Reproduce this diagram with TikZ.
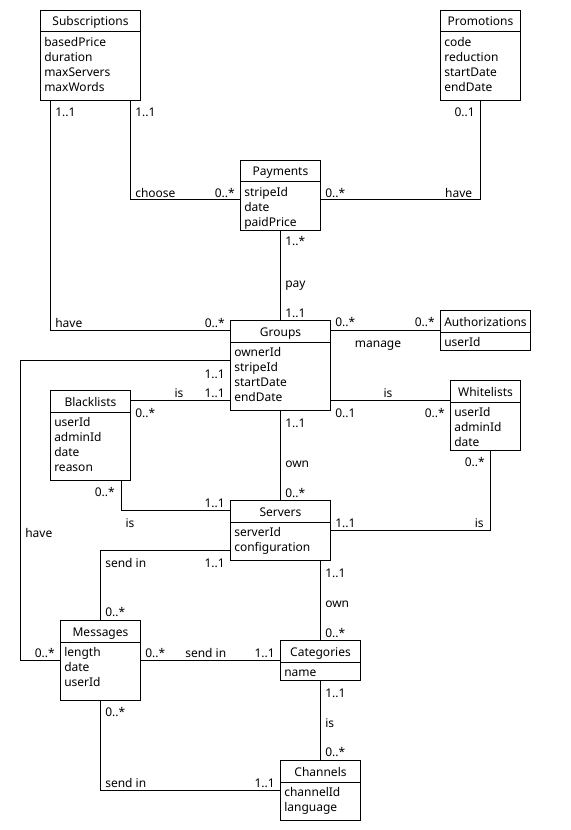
\documentclass[tikz,border=0pt]{standalone}
\usepackage{fontspec}
\setmainfont{Noto Sans}
\usetikzlibrary{calc}

% class box: name, x, y, width (px), height (px), title, attributes
\newcommand{\umlclass}[7]{%
  \node[cls, minimum width=#4*0.75pt, minimum height=#5*0.75pt] (#1) at (#2,#3) {};
  \draw[conn] ($(#1.north west)+(0,22)$) -- ($(#1.north east)+(0,22)$);
  \node[ttl] (#1-t) at ($(#1.north)+(0,16)$) {#6};
  \node[attr] (#1-a) at ($(#1.north west)+(4,25.3)$) {\rule{0pt}{8pt}#7};
}

\begin{document}
\begin{tikzpicture}[
    x=0.75pt, y=-0.75pt,
    every node/.style={font=\fontsize{9pt}{11.25pt}\selectfont},
    cls/.style={draw, line width=0.75pt, inner sep=0pt, anchor=north west},
    ttl/.style={anchor=base, inner sep=0pt},
    attr/.style={anchor=north west, inner sep=0pt, align=left},
    conn/.style={line width=0.75pt},
    lbl/.style={inner sep=0pt, text height=6.4pt, text depth=0pt}
  ]
  \useasboundingbox (0,0) rectangle (570,830);

  % classes
  \umlclass{subs}{40}{10}{100}{90}{Subscriptions}{basedPrice\\duration\\maxServers\\maxWords}
  \umlclass{promo}{440}{10}{80}{90}{Promotions}{code\\reduction\\startDate\\endDate}
  \umlclass{pay}{240}{160}{80}{70}{Payments}{stripeId\\date\\paidPrice}
  \umlclass{grp}{230}{320}{100}{90}{Groups}{ownerId\\stripeId\\startDate\\endDate}
  \umlclass{auth}{440}{310}{90}{40}{Authorizations}{userId}
  \umlclass{black}{50}{390}{80}{90}{Blacklists}{userId\\adminId\\date\\reason}
  \umlclass{white}{450}{380}{70}{70}{Whitelists}{userId\\adminId\\date}
  \umlclass{serv}{230}{500}{100}{60}{Servers}{serverId\\configuration}
  \umlclass{msg}{60}{620}{80}{80}{Messages}{length\\date\\userId}
  \umlclass{cat}{280}{640}{80}{40}{Categories}{name}
  \umlclass{chan}{280}{760}{80}{60}{Channels}{channelId\\language}

  % line ends
  \coordinate (wl) at ($(white.north west)+(0,20)$);
  \coordinate (bl) at ($(black.north east)+(0,10)$);

  % associations
  \draw[conn] ($(subs.south west)+(10,0)$) |- ($(grp.north west)+(0,10)$);
  \draw[conn] ($(subs.south west)+(90,0)$) |- ($(pay.north west)+(0,40)$);
  \draw[conn] ($(pay.north east)+(0,40)$) -| (promo.south);
  \draw[conn] (pay.south) -- (grp.north);
  \draw[conn] (auth.west -| grp.east) -- (auth.west);
  \draw[conn] (wl -| grp.east) -- (wl);
  \draw[conn] (bl) -- (bl -| grp.west);
  \draw[conn] ($(grp.north west)+(0,40)$) -| ($(msg.west)+(-40,0)$) -- (msg.west);
  \draw[conn] (grp.south) -- (serv.north);
  \draw[conn] ($(black.south east)+(-10,0)$) |- ($(serv.north west)+(0,10)$);
  \draw[conn] (serv.east) -| ($(white.south)+(5,0)$);
  \draw[conn] ($(serv.north west)+(0,50)$) -| (msg.north);
  \draw[conn] (cat.north |- serv.south) -- (cat.north);
  \draw[conn] (msg.east) -- (cat.west);
  \draw[conn] (cat.south) -- (chan.north);
  \draw[conn] (msg.south) |- (chan.west);

  % multiplicities and roles
  \node[lbl, anchor=west] (sg1) at (55,112) {1..1};
  \node[lbl, anchor=west] (sg2) at (55,323) {have};
  \node[lbl, anchor=east] (sg3) at (225,323) {0..*};
  \node[lbl, anchor=west] (sp1) at (135,112) {1..1};
  \node[lbl, anchor=west] (sp2) at (135,193) {choose};
  \node[lbl, anchor=east] (sp3) at (235,193) {0..*};
  \node[lbl, anchor=west] (pp1) at (325,193) {0..*};
  \node[lbl, anchor=east] (pp2) at (472.5,193) {have};
  \node[lbl, anchor=east] (pp3) at (475,112) {0..1};
  \node[lbl, anchor=west] (pg1) at (285,241) {1..*};
  \node[lbl, anchor=west] (pg2) at (285,283) {pay};
  \node[lbl, anchor=west] (pg3) at (285,313) {1..1};
  \node[lbl, anchor=west] (ga1) at (335,322) {0..*};
  \node[lbl] (ga2) at (378,343) {manage};
  \node[lbl, anchor=east] (ga3) at (435,322) {0..*};
  \node[lbl] (gw1) at (388,393) {is};
  \node[lbl, anchor=west] (gw2) at (335,413) {0..1};
  \node[lbl, anchor=east] (gw3) at (445,413) {0..*};
  \node[lbl] (gb1) at (179,393) {is};
  \node[lbl, anchor=east] (gb2) at (225,393) {1..1};
  \node[lbl, anchor=west] (gb3) at (135,413) {0..*};
  \node[lbl, anchor=east] (gm1) at (225,374) {1..1};
  \node[lbl, anchor=west] (gm2) at (25,533) {have};
  \node[lbl, anchor=east] (gm3) at (55,653) {0..*};
  \node[lbl, anchor=west] (gs1) at (285,423) {1..1};
  \node[lbl, anchor=west] (gs2) at (285,463) {own};
  \node[lbl, anchor=west] (gs3) at (285,493) {0..*};
  \node[lbl, anchor=east] (bs1) at (115,492) {0..*};
  \node[lbl] (bs2) at (130,523) {is};
  \node[lbl, anchor=east] (bs3) at (225,503) {1..1};
  \node[lbl, anchor=west] (sw1) at (335,523) {1..1};
  \node[lbl, anchor=east] (sw2) at (484,523) {is};
  \node[lbl, anchor=east] (sw3) at (485,462) {0..*};
  \node[lbl, anchor=west] (sm1) at (105,563) {send in};
  \node[lbl, anchor=east] (sm2) at (225,563) {1..1};
  \node[lbl, anchor=west] (sm3) at (105,612) {0..*};
  \node[lbl, anchor=west] (sc1) at (325,573) {1..1};
  \node[lbl, anchor=west] (sc2) at (325,603) {own};
  \node[lbl, anchor=west] (sc3) at (325,633) {0..*};
  \node[lbl, anchor=west] (mc1) at (145,653) {0..*};
  \node[lbl, anchor=west] (mc2) at (185,653) {send in};
  \node[lbl, anchor=east] (mc3) at (275,653) {1..1};
  \node[lbl, anchor=west] (cc1) at (325,693) {1..1};
  \node[lbl, anchor=west] (cc2) at (325,723) {is};
  \node[lbl, anchor=west] (cc3) at (325,752) {0..*};
  \node[lbl, anchor=west] (mh1) at (105,712) {0..*};
  \node[lbl, anchor=west] (mh2) at (105,783) {send in};
  \node[lbl, anchor=east] (mh3) at (275,783) {1..1};
\end{tikzpicture}
\end{document}
